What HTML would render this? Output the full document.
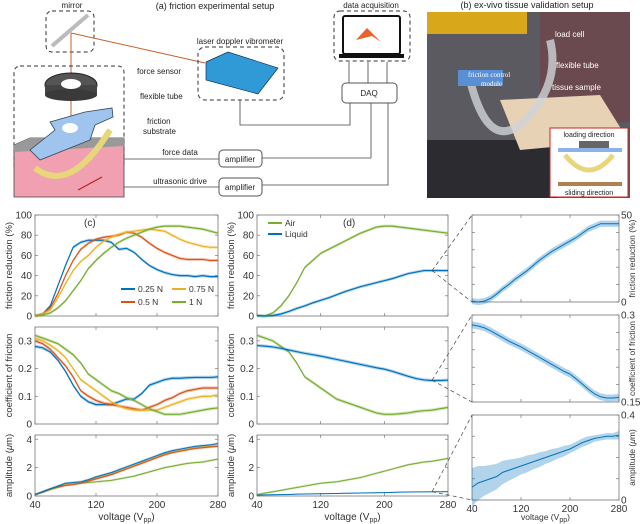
<!DOCTYPE html>
<html><head><meta charset="utf-8"><style>
html,body{margin:0;padding:0;background:#fff}
svg{display:block;font-family:"Liberation Sans",sans-serif}
</style></head><body>
<svg id="fig" width="640" height="524" viewBox="0 0 640 524">
<!-- (a) setup diagram -->
<g font-size="8" fill="#222">
<text x="215" y="9" text-anchor="middle" font-size="9">(a) friction experimental setup</text>
<text x="72" y="8" text-anchor="middle">mirror</text>
<rect x="46" y="11" width="48" height="41" rx="6" fill="none" stroke="#333" stroke-dasharray="4,3"/>
<line x1="52" y1="46" x2="88" y2="15" stroke="#bbb" stroke-width="4"/>
<line x1="71" y1="33" x2="71" y2="165" stroke="#c8602a" stroke-width="1"/>
<line x1="71" y1="33" x2="205" y2="63" stroke="#c8602a" stroke-width="1"/>
<text x="240" y="44" text-anchor="middle">laser doppler vibrometer</text>
<rect x="198" y="47" width="86" height="53" rx="7" fill="none" stroke="#333" stroke-dasharray="4,3"/>
<polygon points="206,62 228,52 278,68 258,94 206,80" fill="#2f9ad6" stroke="#135" stroke-width="0.7"/>
<rect x="14" y="66" width="110" height="105" rx="6" fill="none" stroke="#333" stroke-dasharray="4,3"/>
<ellipse cx="71" cy="85" rx="26" ry="12" fill="#555" stroke="#222"/>
<rect x="45" y="85" width="52" height="10" fill="#444"/>
<ellipse cx="71" cy="95" rx="26" ry="6" fill="#3a3a3a"/>
<ellipse cx="71" cy="84" rx="10" ry="5" fill="#fff"/>
<path d="M14,145 L30,138 L124,138 L124,197 L14,197 Z" fill="#f0a0b0" stroke="#444" stroke-width="0.8"/>
<path d="M14,145 L30,138 L124,138 L124,146 L14,152Z" fill="#999"/>
<path d="M35,168 Q70,195 110,130" fill="none" stroke="#e8d67a" stroke-width="6"/>
<path d="M30,150 L55,130 L50,122 L85,112 L112,108 L113,117 L95,125 L90,140 L40,160 Z" fill="#9fc4ee" stroke="#345" stroke-width="0.8"/>
<ellipse cx="70" cy="128" rx="8" ry="5" fill="#fff"/>
<line x1="78" y1="190" x2="102" y2="177" stroke="#b22" stroke-width="1.2"/>
<text x="137" y="74">force sensor</text>
<text x="140" y="99">flexible tube</text>
<text x="147" y="124">friction</text>
<text x="143" y="134">substrate</text>
<text x="180" y="155" text-anchor="middle">force data</text>
<text x="180" y="184" text-anchor="middle">ultrasonic drive</text>
<g fill="none" stroke="#444" stroke-width="0.8">
<line x1="124" y1="159" x2="219" y2="159"/><line x1="124" y1="187" x2="219" y2="187"/>
<line x1="262" y1="158" x2="371" y2="158"/><line x1="371" y1="158" x2="371" y2="103"/>
<polyline points="388,103 388,185 262,185"/>
<polyline points="240,100 240,125 350,125 350,103"/>
<line x1="349" y1="83" x2="349" y2="62"/><line x1="368" y1="83" x2="368" y2="62"/><line x1="387" y1="62" x2="387" y2="83"/>
</g>
<rect x="219" y="150" width="43" height="17" rx="4" fill="#fff" stroke="#555"/>
<text x="240" y="162" text-anchor="middle">amplifier</text>
<rect x="219" y="178" width="43" height="18" rx="4" fill="#fff" stroke="#555"/>
<text x="240" y="190" text-anchor="middle">amplifier</text>
<rect x="342" y="83" width="55" height="20" rx="4" fill="#fff" stroke="#555"/>
<text x="369" y="96" text-anchor="middle">DAQ</text>
<text x="371" y="8" text-anchor="middle">data acquisition</text>
<rect x="334" y="11" width="76" height="50" rx="6" fill="none" stroke="#333" stroke-dasharray="4,3"/>
<rect x="343" y="16" width="57" height="38" rx="2" fill="#fff" stroke="#111" stroke-width="2"/>
<rect x="339" y="54" width="65" height="4" fill="#111"/>
<polygon points="356,40 367,28 381,42 372,36" fill="#e8622a"/>
</g>
<!-- (b) photo -->
<g font-size="8">
<text x="527" y="8" text-anchor="middle" font-size="9" fill="#222">(b) ex-vivo tissue validation setup</text>
<rect x="427" y="12" width="203" height="186" fill="#5a5a60"/>
<rect x="427" y="12" width="100" height="22" fill="#d9a81a"/>
<rect x="427" y="140" width="130" height="58" fill="#2c2c30"/>
<rect x="540" y="12" width="90" height="110" fill="#6a4a4e"/>
<path d="M500,100 L600,95 L628,140 L520,150 Z" fill="#e8d2b6"/>
<path d="M470,80 Q490,160 530,115 Q560,80 550,40" fill="none" stroke="#cfd3d8" stroke-width="8" opacity="0.8"/>
<rect x="458" y="70" width="45" height="16" fill="#5b8fd4"/>
<g fill="#fff"><text x="555" y="37">load cell</text><text x="556" y="68">flexible tube</text><text x="552" y="90">tissue sample</text>
<text x="468" y="77" font-family="Liberation Serif,serif" font-size="7">friction control</text><text x="481" y="86" font-family="Liberation Serif,serif" font-size="7">module</text></g>
<rect x="550" y="128" width="78" height="69" fill="#fff" stroke="#c22"/>
<text x="589" y="137" text-anchor="middle" font-size="7" fill="#222">loading direction</text>
<text x="589" y="195" text-anchor="middle" font-size="7" fill="#222">sliding direction</text>
<rect x="579" y="141" width="30" height="7" fill="#666"/>
<rect x="558" y="148" width="64" height="4" fill="#8ab4e8"/>
<path d="M565,155 Q589,185 613,155" fill="none" stroke="#e8d67a" stroke-width="5"/>
<rect x="558" y="182" width="64" height="4" fill="#b08050"/>
</g>
<g id="charts"></g>
</svg>
<script>
// ---- data ----
const volts = [40,50,60,70,80,90,100,110,120,130,140,150,160,170,180,190,200,210,220,230,240,250,260,270,280];
const xTicks = [40,120,200,280];
const forceLabels = ['0.25 N','0.5 N','0.75 N','1 N'];
const frBlue   = [0,2,10,30,50,68,73,75,75,75,73,66,67,63,56,50,46,43,41,40,40,39,40,39,39];
const frRed    = [0,2,8,22,40,55,66,72,76,78,79,80,83,82,78,72,67,63,60,57,56,56,56,55,55];
const frYellow = [0,2,6,18,32,45,54,60,68,74,78,81,83,84,85,86,85,84,80,76,73,71,69,68,68];
const frGreen  = [0,1,3,8,15,25,35,47,55,62,68,73,77,80,83,86,88,89,89,89,88,87,86,84,82];
const cofBlue   = [.28,.275,.26,.23,.19,.14,.10,.08,.07,.07,.07,.08,.09,.09,.11,.14,.15,.16,.165,.165,.167,.168,.168,.168,.17];
const cofRed    = [.30,.29,.27,.24,.21,.17,.12,.10,.085,.075,.07,.065,.06,.055,.05,.06,.07,.085,.095,.11,.12,.125,.13,.13,.13];
const cofYellow = [.31,.30,.285,.265,.24,.20,.16,.14,.12,.10,.08,.065,.055,.05,.05,.05,.05,.06,.07,.08,.09,.095,.1,.1,.105];
const cofGreen  = [.32,.31,.30,.29,.27,.25,.22,.18,.16,.14,.12,.11,.095,.085,.07,.055,.045,.035,.035,.035,.04,.045,.05,.055,.058];
const ampBlue   = [.1,.3,.5,.7,.9,.95,1.0,1.15,1.35,1.5,1.65,1.85,2.05,2.25,2.45,2.65,2.85,3.05,3.2,3.3,3.4,3.5,3.55,3.6,3.7];
const ampRed    = [.1,.3,.5,.65,.75,.8,.9,1.05,1.2,1.35,1.5,1.7,1.9,2.1,2.3,2.5,2.7,2.9,3.05,3.15,3.25,3.35,3.4,3.45,3.5];
const ampYellow = [.1,.3,.5,.68,.78,.85,.95,1.1,1.25,1.4,1.55,1.75,1.95,2.15,2.35,2.55,2.75,2.95,3.1,3.2,3.3,3.4,3.45,3.5,3.55];
const ampGreen  = [.1,.25,.45,.6,.75,.85,.9,.95,1.0,1.05,1.1,1.2,1.3,1.4,1.55,1.7,1.85,2.0,2.1,2.2,2.3,2.35,2.4,2.5,2.6];
const frAir     = [0,0,3,10,20,33,48,55,62,66,70,74,78,82,85,88,89,89,88,87,86,85,84,83,82];
const frLiquid  = [0.5,0,0.5,2,4.5,7.5,10,13,15.5,18,21,24,26.5,29,31,33,35,37,39.5,42,43.5,45,45,45,45];
const cofAir    = [.32,.31,.30,.28,.26,.22,.17,.15,.13,.11,.09,.08,.07,.06,.05,.04,.035,.035,.037,.04,.045,.048,.05,.055,.06];
const cofLiquid = [.283,.281,.278,.273,.267,.261,.255,.25,.245,.239,.233,.227,.221,.215,.209,.203,.198,.19,.181,.172,.164,.159,.157,.157,.158];
const ampAir    = [.1,.2,.3,.4,.5,.6,.7,.8,.9,.95,1.0,1.1,1.2,1.3,1.45,1.6,1.75,1.9,2.05,2.2,2.3,2.4,2.45,2.55,2.65];
const ampLiquid = [.06,.08,.09,.1,.11,.13,.14,.15,.16,.17,.18,.19,.2,.21,.22,.23,.24,.255,.27,.28,.29,.295,.3,.3,.305];
const ampLiquidErr = [.09,.08,.07,.065,.06,.055,.05,.045,.04,.04,.035,.035,.03,.03,.025,.025,.02,.02,.02,.02,.015,.015,.015,.015,.02];

const C = {blue:'#0072BD', red:'#D95319', yellow:'#EDB120', green:'#77AC30'};
const NS = 'http://www.w3.org/2000/svg';
const root = document.getElementById('charts');
function mk(tag, attrs, parent){ const e=document.createElementNS(NS,tag); for(const k in attrs) e.setAttribute(k,attrs[k]); (parent||root).appendChild(e); return e; }

function axes(name, x0,x1,y0,y1,ymin,ymax,yTicks,yLabels,ylabel,opts){
  opts=opts||{};
  const g=mk('g',{});
  
  
  const sx=v=>x0+(v-40)/(280-40)*(x1-x0);
  const sy=v=>y1-(v-ymin)/(ymax-ymin)*(y1-y0);
  const box=mk('rect',{x:x0,y:y0,width:x1-x0,height:y1-y0,fill:'#fff',stroke:'#777','stroke-width':0.8},g);
  
  
  const right=opts.right;
  yTicks.forEach((t,i)=>{
    const y=sy(t);
    mk('line',{x1:x0,x2:x0+3,y1:y,y2:y,stroke:'#777','stroke-width':0.7},g);
    mk('line',{x1:x1,x2:x1-3,y1:y,y2:y,stroke:'#777','stroke-width':0.7},g);
    if(yLabels[i]!==''){
      const tx=mk('text',{x:right?x1+2:x0-3,y:y+3.5,'text-anchor':right?'start':'end','font-size':10,fill:'#333'},g);
      tx.textContent=yLabels[i];
      
      
    }
  });
  xTicks.forEach(t=>{
    const x=sx(t);
    mk('line',{x1:x,x2:x,y1:y1,y2:y1-3,stroke:'#777','stroke-width':0.7},g);
    mk('line',{x1:x,x2:x,y1:y0,y2:y0+3,stroke:'#777','stroke-width':0.7},g);
    if(opts.xlabels){
      const tx=mk('text',{x:x,y:y1+12,'text-anchor':'middle','font-size':10,fill:'#333'},g);
      tx.textContent=t;
      
      
    }
  });
  const lx=right?x1+(opts.lOff||24):x0-(opts.lOff||23), ly=(y0+y1)/2;
  const lab=mk('text',{x:lx,y:ly,transform:`rotate(-90 ${lx} ${ly})`,'text-anchor':'middle','font-size':opts.lfs||9.5,fill:'#333'},g);
  lab.innerHTML=ylabel;
  
  
  if(opts.xlabels){
    const xl=mk('text',{x:(x0+x1)/2,y:y1+(opts.xOff||24),'text-anchor':'middle','font-size':opts.xfs||10,fill:'#333'},g);
    xl.innerHTML='voltage (V<tspan font-size="7" dy="2">pp</tspan><tspan dy="-2">)</tspan>';
    
    
  }
  return {sx,sy,g};
}
function series(ax,name,vals,color,err,width){
  const up=vals.map((v,i)=>[ax.sx(volts[i]),ax.sy(v+(Array.isArray(err)?err[i]:err))]);
  const dn=vals.map((v,i)=>[ax.sx(volts[i]),ax.sy(v-(Array.isArray(err)?err[i]:err))]).reverse();
  const band=mk('polygon',{points:up.concat(dn).map(p=>p.join(',')).join(' '),fill:color,opacity:0.3},ax.g);
  
  
  const ln=mk('polyline',{points:vals.map((v,i)=>ax.sx(volts[i])+','+ax.sy(v)).join(' '),fill:'none',stroke:color,'stroke-width':width||1.2},ax.g);
  
  
}
const pctT=[0,20,40,60,80,100], pctL=['0','20','40','60','80','100'];
const cofT=[0,0.1,0.2,0.3], cofL=['0','0.1','0.2','0.3'];
const ampT=[0,2,4], ampL=['0','2','4'];
const amp='amplitude (<tspan font-style="italic">μ</tspan>m)';

// panel c
const c1=axes('c-friction-reduction',35,218,215,316,0,100,pctT,pctL,'friction reduction (%)');
[[frBlue,'blue'],[frRed,'red'],[frYellow,'yellow'],[frGreen,'green']].forEach(([d,c])=>series(c1,'c-fr-'+c,d,C[c],1.5));
const c2=axes('c-cof',35,218,327,424,0,0.35,cofT,cofL,'coefficient of friction');
[[cofBlue,'blue'],[cofRed,'red'],[cofYellow,'yellow'],[cofGreen,'green']].forEach(([d,c])=>series(c2,'c-cof-'+c,d,C[c],0.006));
const c3=axes('c-amplitude',35,218,435,496,0,4.3,ampT,ampL,amp,{xlabels:true});
[[ampGreen,'green'],[ampYellow,'yellow'],[ampRed,'red'],[ampBlue,'blue']].forEach(([d,c])=>series(c3,'c-amp-'+c,d,C[c],0.08,1));
let t=mk('text',{x:84,y:226,'font-size':10,fill:'#333'});t.textContent='(c)';

// legend c
const legC=[[0,'blue',121,292],[1,'red',121,305],[2,'yellow',172,292],[3,'green',172,305]];
legC.forEach(([i,c,x,y])=>{
  const l=mk('line',{x1:x,x2:x+14,y1:y-3,y2:y-3,stroke:C[c],'stroke-width':2});
  
  const tx=mk('text',{x:x+17,y:y,'font-size':8.5,fill:'#333'});tx.textContent=forceLabels[i];
  
});

// panel d
const d1=axes('d-friction-reduction',257,448,215,316,0,100,pctT,pctL,'friction reduction (%)');
series(d1,'d-fr-air',frAir,C.green,1.5);series(d1,'d-fr-liquid',frLiquid,C.blue,1.5);
const d2=axes('d-cof',257,448,327,424,0,0.35,cofT,cofL,'coefficient of friction');
series(d2,'d-cof-air',cofAir,C.green,0.006);series(d2,'d-cof-liquid',cofLiquid,C.blue,0.006);
const d3=axes('d-amplitude',257,448,435,496,0,4.3,ampT,ampL,amp,{xlabels:true});
series(d3,'d-amp-air',ampAir,C.green,0.08,1);series(d3,'d-amp-liquid',ampLiquid,C.blue,0.03,1);
t=mk('text',{x:343,y:226,'font-size':10,fill:'#333'});t.textContent='(d)';

[['green','Air',226],['blue','Liquid',237]].forEach(([c,n,y])=>{
  const l=mk('line',{x1:268,x2:282,y1:y-3,y2:y-3,stroke:C[c],'stroke-width':2});
  
  const tx=mk('text',{x:285,y:y,'font-size':8.5,fill:'#333'});tx.textContent=n;
  
});

// zoom panels (liquid)
const e1=axes('zoom-friction-reduction',472,619,215,302,0,50,[0,10,20,30,40,50],['0','','','','','50'],'friction reduction (%)',{right:true,lOff:16,lfs:8.5});
series(e1,'zoom-fr-liquid',frLiquid,C.blue,1.8,1);
const e2=axes('zoom-cof',472,619,315,402,0.15,0.3,[0.15,0.18,0.21,0.24,0.27,0.3],['0.15','','','','','0.3'],'coefficient of friction',{right:true,lOff:16,lfs:8.5});
series(e2,'zoom-cof-liquid',cofLiquid,C.blue,0.006,1);
const e3=axes('zoom-amplitude',472,619,415,500,0,0.4,[0,0.1,0.2,0.3,0.4],['0','','','','0.4'],amp,{right:true,xlabels:true,lOff:16,lfs:8.5,xfs:8.5,xOff:20});
series(e3,'zoom-amp-liquid',ampLiquid,C.blue,ampLiquidErr,1);

// dashed connectors
[[d1,frLiquid[24],215,302],[d2,cofLiquid[24],315,402],[d3,ampLiquid[24],415,500]].forEach(([ax,v,ya,yb],i)=>{
  const x=ax.sx(260), y=ax.sy(v);
  [ya,yb].forEach(yy=>{
    const l=mk('line',{x1:x,y1:y,x2:472,y2:yy,stroke:'#444','stroke-width':0.7,'stroke-dasharray':'4,3'});
    
  });
});
</script>
</body></html>
